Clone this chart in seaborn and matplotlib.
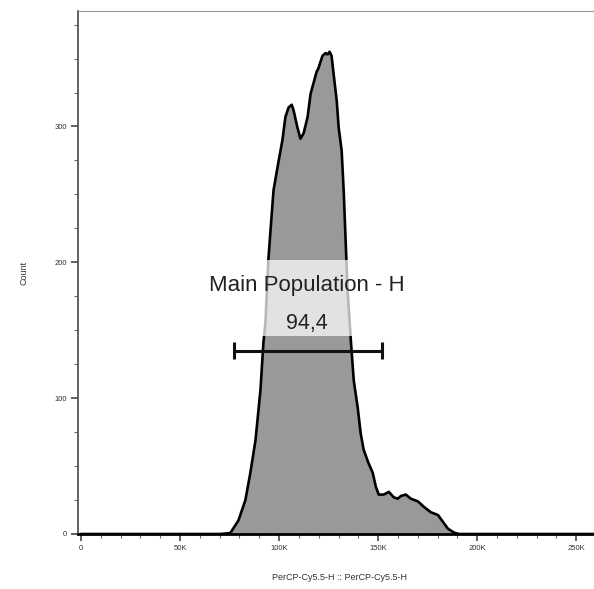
import matplotlib
matplotlib.use("Agg")
import matplotlib.pyplot as plt
from matplotlib.patches import Rectangle
from matplotlib.ticker import MultipleLocator
import pandas as pd
import seaborn as sns

# PerCP-Cy5.5-H intensity (thousands) and event counts along the histogram outline
intensity_k = [0, 70.3, 75.4, 79.5, 83.0, 85.5, 88.1, 90.6, 92.1, 93.1, 94.6, 95.7,
               97.2, 99.7, 101.7, 103.2, 104.8, 106.4, 107.3, 109.3, 110.8, 112.4,
               114.4, 115.9, 117.4, 118.9, 119.9, 121.9, 123.5, 124.5, 125.5, 126.5,
               127.5, 129.1, 130.1, 131.6, 132.6, 133.6, 134.6, 136.2, 137.7, 139.7,
               141.2, 142.7, 145.2, 147.3, 148.8, 150.3, 152.8, 155.4, 157.9, 159.9,
               161.5, 164.0, 166.5, 170.1, 173.1, 176.6, 180.2, 182.7, 185.2, 188.3,
               190.8, 262.0]
counts = [0, 0, 0.7, 10, 25, 45, 69, 106, 141, 155, 202, 224,
          253, 274, 290, 307, 314, 316, 312, 299, 291, 295,
          307, 324, 332, 340, 343, 352, 354, 353, 355, 352,
          339, 319, 299, 282, 253, 216, 179, 143, 113, 93,
          74, 62, 52, 45, 35, 29, 29, 31, 27, 26,
          28, 29, 26, 24, 20, 16, 14, 9, 4, 1,
          0, 0]

x_ticks = [0, 50, 100, 150, 200, 250]
x_tick_labels = ["0", "50K", "100K", "150K", "200K", "250K"]
y_ticks = [0, 100, 200, 300]
y_tick_labels = ["0", "100", "200", "300"]

gate_name = "Main Population - H"
gate_percent = "94,4"
gate_low_k, gate_high_k, gate_level = 77, 152, 135

df = pd.DataFrame({"x": intensity_k, "count": counts})

sns.set_style("ticks")
plt.rcParams["font.family"] = ["Liberation Sans", "DejaVu Sans"]

fig = plt.figure(figsize=(5.94, 5.89), dpi=100)
ax = fig.add_axes([78 / 594, 55 / 589, 522 / 594, 523 / 589])

ax.fill_between(df["x"], df["count"], 0, color="#999999", linewidth=0, zorder=2)
sns.lineplot(data=df, x="x", y="count", ax=ax, color="black", linewidth=1.9,
             sort=False, estimator=None, zorder=3)

# Label panel sits over the histogram
ax.add_patch(Rectangle((68, 146), 97, 56, facecolor="white", alpha=0.72,
                       edgecolor="none", zorder=4))
ax.text(114, 183, gate_name, ha="center", va="center", fontsize=16,
        color="#222222", zorder=5)
ax.text(114, 155, gate_percent, ha="center", va="center", fontsize=15.5,
        color="#222222", zorder=5)

# Gate bar with end caps
ax.plot([gate_low_k, gate_high_k], [gate_level, gate_level], color="#111111",
        linewidth=2.2, zorder=6, solid_capstyle="butt")
for gx in (gate_low_k, gate_high_k):
    ax.plot([gx, gx], [gate_level - 6.5, gate_level + 6.5], color="#111111",
            linewidth=2.2, zorder=6, solid_capstyle="butt")

ax.set_xlim(-1.5, 262)
ax.set_ylim(0, 385)

ax.set_xticks(x_ticks)
ax.set_xticklabels(x_tick_labels)
ax.set_yticks(y_ticks)
ax.set_yticklabels(y_tick_labels)
ax.xaxis.set_minor_locator(MultipleLocator(10))
ax.yaxis.set_minor_locator(MultipleLocator(25))
ax.tick_params(axis="both", which="major", length=5, width=1.2, labelsize=5.5,
               colors="#444444", labelcolor="#333333", pad=3)
ax.tick_params(axis="both", which="minor", length=3, width=0.8, colors="#666666")

ax.set_xlabel("PerCP-Cy5.5-H :: PerCP-Cy5.5-H", fontsize=6.5, color="#333333",
              labelpad=15)
ax.set_ylabel("Count", fontsize=6.5, color="#333333", labelpad=19)

ax.spines["left"].set_color("#555555")
ax.spines["left"].set_linewidth(1.3)
ax.spines["bottom"].set_color("black")
ax.spines["bottom"].set_linewidth(2.0)
ax.spines["top"].set_visible(True)
ax.spines["top"].set_color("#999999")
ax.spines["top"].set_linewidth(0.8)
ax.spines["right"].set_visible(False)

fig.savefig("out.png", dpi=100)
